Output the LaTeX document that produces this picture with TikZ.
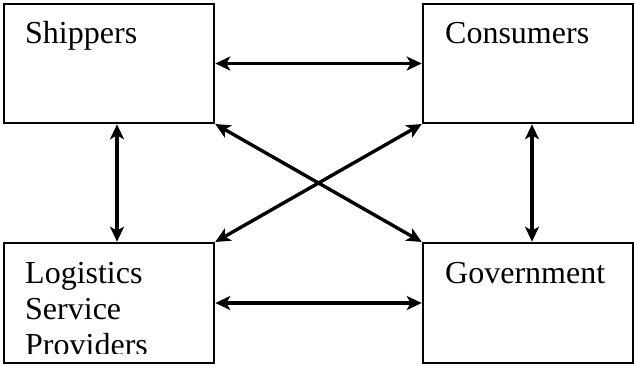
\documentclass[tikz,border=0pt]{standalone}
\usepackage{fontspec}
\setmainfont{Liberation Serif}
\usetikzlibrary{arrows.meta,calc}
\tikzset{
  box/.style={draw, line width=1.6pt, minimum width=210pt, minimum height=119pt, inner sep=0pt},
  lbl/.style={anchor=base west, inner sep=0pt, font=\fontsize{32}{36}\selectfont},
  link/.style={line width=3.4pt, {Stealth[length=15pt,width=14pt,inset=4pt]}-{Stealth[length=15pt,width=14pt,inset=4pt]}, shorten <=0.5pt, shorten >=0.5pt}
}
\begin{document}
\begin{tikzpicture}[x=1pt,y=-1pt]
\useasboundingbox[fill=white] (0,0) rectangle (634,365);
\node[box] (ship) at (109,63.5) {};
\node[box] (cons) at (528,63.5) {};
\node[box, minimum height=120pt] (log) at (109,303) {};
\node[box, minimum height=120pt] (gov) at (528,303) {};
\node[lbl] (tship) at (25,43) {Shippers};
\node[lbl] (tcons) at (445,43) {Consumers};
\node[lbl] (tgov) at (445,283) {Government};
\begin{scope}
\clip (4,243) rectangle (214,353);
\node[lbl] (tlog1) at (25,283) {Logistics};
\node[lbl] (tlog2) at (25,319) {Service};
\node[lbl] (tlog3) at (25,355) {Providers};
\end{scope}
\draw[link] (ship.east) -- (cons.west);
\draw[link] (log.east) -- (gov.west);
\draw[link] ([xshift=8pt]ship.south) -- ([xshift=8pt]log.north);
\draw[link] ([xshift=4pt]cons.south) -- ([xshift=4pt]gov.north);
\draw[link] (ship.south east) -- (gov.north west);
\draw[link] (cons.south west) -- (log.north east);
\end{tikzpicture}
\end{document}
